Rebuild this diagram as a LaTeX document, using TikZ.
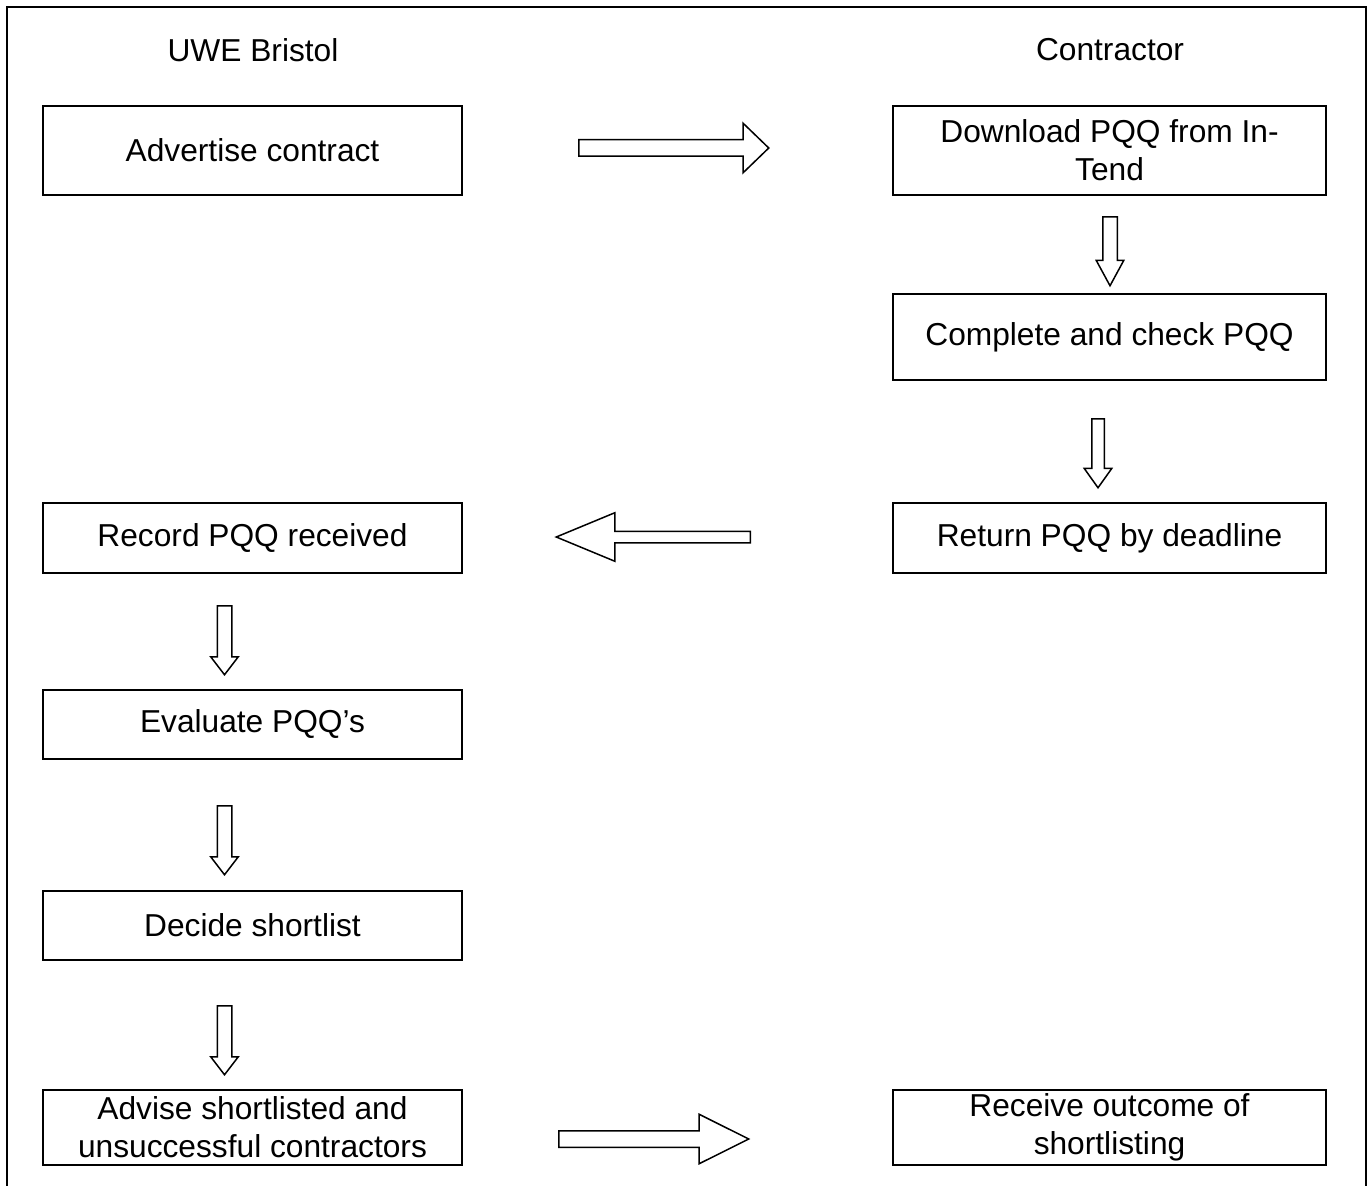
\documentclass[tikz,border=0pt]{standalone}
\usepackage{fontspec}
\setmainfont{Liberation Sans}
\usetikzlibrary{shapes.arrows,positioning}

\begin{document}
\begin{tikzpicture}[x=1pt,y=-1pt,
    stepbox/.style={draw, line width=2pt, inner sep=0pt, align=center,
      minimum height=#1},
    leftbox/.style={stepbox=#1, minimum width=419pt},
    rightbox/.style={stepbox=#1, minimum width=433pt},
    barrow/.style={single arrow, draw, fill=white, line width=1.5pt,
      inner xsep=0pt, single arrow head indent=0pt, anchor=tail},
    downarrow/.style={barrow, rotate=-90, minimum height=69pt,
      minimum width=26pt, inner ysep=6.5pt, single arrow head extend=6.5pt}]
  \fontsize{31.7}{38}\selectfont
  \useasboundingbox (0,0) rectangle (1372,1185);

  % Frame (open at the bottom)
  \draw[line width=2pt] (7,1186) -- (7,7) -- (1366,7) -- (1366,1186);

  % Column heads
  \node (uwe) at (253,50) {UWE Bristol};
  \node (con) at (1110,50) {Contractor};

  % UWE Bristol column
  \node[leftbox=89pt] (adv) at (252.5,150.5) {Advertise contract};
  \node[leftbox=70pt] (rec) at (252.5,538) {Record PQQ received};
  \node[leftbox=69pt] (eval) at (252.5,724.5) {Evaluate PQQ’s};
  \node[leftbox=69pt] (decide) at (252.5,925.5) {Decide shortlist};
  \node[leftbox=75pt] (advise) at (252.5,1127.5)
    {Advise shortlisted and\\unsuccessful contractors};

  % Contractor column
  \node[rightbox=89pt] (dload) at (1109.5,150.5) {Download PQQ from In-\\Tend};
  \node[rightbox=86pt] (check) at (1109.5,337) {Complete and check PQQ};
  \node[rightbox=70pt] (ret) at (1109.5,538) {Return PQQ by deadline};
  \node[rightbox=75pt] (receive) at (1109.5,1127.5)
    {Receive outcome of\\shortlisting};

  % Block arrows across (placed by their tails)
  \node[barrow, minimum height=190pt, minimum width=48pt, inner ysep=7.5pt,
    single arrow head extend=16.5pt, single arrow tip angle=88] (toC) at (578,148) {};
  \node[barrow, rotate=180, minimum height=194pt, minimum width=47pt, inner ysep=5pt,
    single arrow head extend=18.5pt, single arrow tip angle=45] (toU) at (751,537) {};
  \node[barrow, minimum height=190pt, minimum width=48pt, inner ysep=7.5pt,
    single arrow head extend=16.5pt, single arrow tip angle=53] (toR) at (558,1139) {};

  % Block arrows down
  \node[downarrow, single arrow tip angle=57] (dnA) at (1110,216) {};
  \node[downarrow, inner ysep=5.5pt, single arrow head extend=7.5pt,
    single arrow tip angle=71] (dnB) at (1098,418) {};
  \node[downarrow, single arrow tip angle=75] (dnC) at (224.5,605) {};
  \node[downarrow, single arrow tip angle=75] (dnD) at (224.5,805) {};
  \node[downarrow, single arrow tip angle=75] (dnE) at (224.5,1005) {};
\end{tikzpicture}
\end{document}
